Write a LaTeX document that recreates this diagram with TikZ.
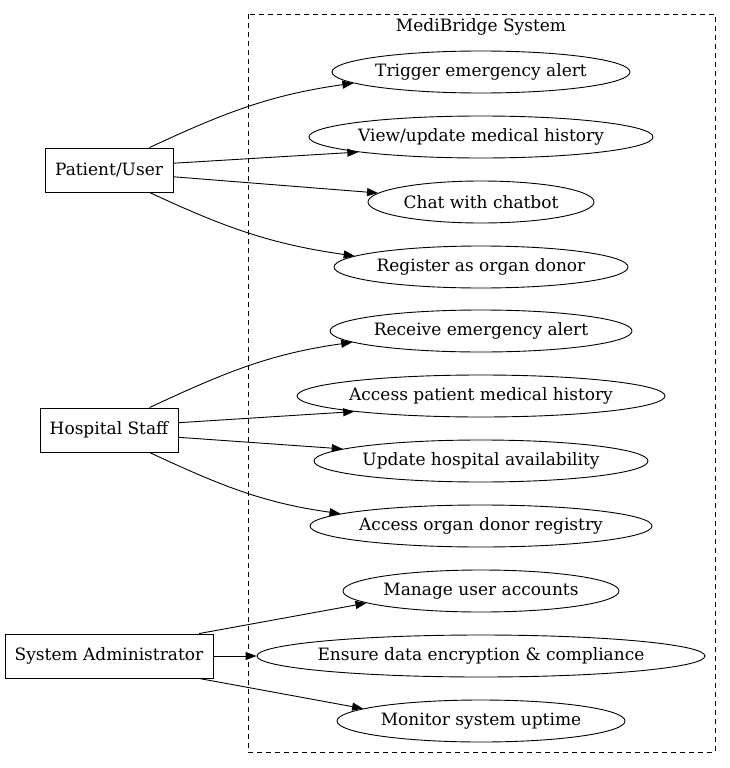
\documentclass[tikz,border=0pt]{standalone}
\usepackage{fontspec}
\setmainfont{DejaVu Serif}
\usetikzlibrary{shapes.geometric,arrows.meta}

\tikzset{
  actor/.style={draw,rectangle,line width=0.9pt,minimum height=44pt,inner sep=0pt,font=\fontsize{17}{20}\selectfont},
  usecase/.style={draw,ellipse,line width=0.9pt,minimum height=42pt,inner sep=0pt,font=\fontsize{17}{20}\selectfont},
  link/.style={line width=0.9pt,-{Triangle[length=11pt,width=8pt]}}
}

\begin{document}
\begin{tikzpicture}[x=1pt,y=1pt]
\useasboundingbox (0,0) rectangle (730,-768);

\draw[line width=0.9pt,dash pattern=on 5pt off 4pt] (248,-14) rectangle (715,-752);
\node[font=\fontsize{17}{20}\selectfont] (title) at (481,-27) {MediBridge System};

\foreach \name/\y/\w/\txt in {
  trig/72/298/{Trigger emergency alert},
  view/137/344/{View/update medical history},
  chat/202/226/{Chat with chatbot},
  donor/267/294/{Register as organ donor},
  recv/331/302/{Receive emergency alert},
  hist/396/368/{Access patient medical history},
  avail/461/334/{Update hospital availability},
  reg/526/342/{Access organ donor registry},
  acct/591/276/{Manage user accounts},
  enc/656/448/{Ensure data encryption \& compliance},
  up/721/288/{Monitor system uptime}}
\node[usecase,minimum width=\w pt] (\name) at (481,-\y) {\makebox[0pt]{\txt}};

\node[actor,minimum width=128pt] (pu) at (109,-170) {Patient/User};
\node[actor,minimum width=138pt] (hs) at (109,-430) {Hospital Staff};
\node[actor,minimum width=208pt] (sa) at (109,-656) {System Administrator};

% patient
\draw[link] (pu.29) to[out=25,in=188] (trig.185);
\draw[link] (pu.6) -- (view.187);
\draw[link] (pu.-6) -- (chat.175);
\draw[link] (pu.-29) to[out=-25,in=172] (donor.175);

% hospital staff
\draw[link] (hs.29) to[out=25,in=188] (recv.185);
\draw[link] (hs.6) -- (hist.187);
\draw[link] (hs.-6) -- (avail.175);
\draw[link] (hs.-29) to[out=-25,in=172] (reg.175);

% admin
\draw[link] (sa.14) -- (acct.186);
\draw[link] (sa) -- (enc);
\draw[link] (sa.-14) -- (up.174);
\end{tikzpicture}
\end{document}
